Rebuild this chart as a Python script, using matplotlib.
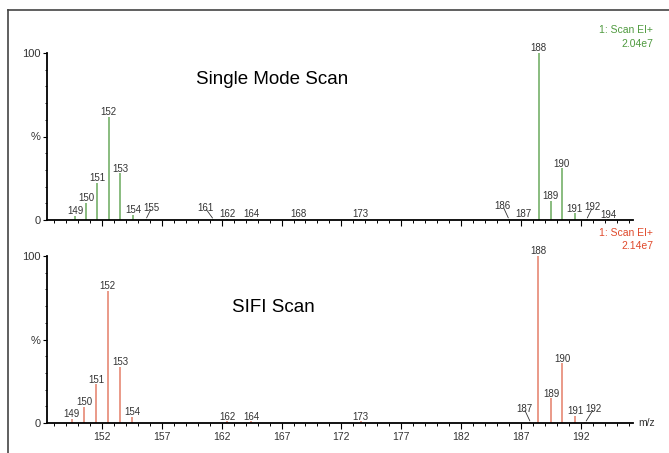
import matplotlib
matplotlib.use('Agg')
import matplotlib.pyplot as plt
from matplotlib.ticker import MultipleLocator, FixedLocator
from matplotlib.lines import Line2D

plt.rcParams['font.family'] = ['Liberation Sans', 'DejaVu Sans']

# measured peak positions (m/z), relative intensity (%) and printed labels
top_mz = [149.75, 150.66, 151.6, 152.55, 153.53, 154.62, 155.67, 161.3, 162.46, 164.45,
          168.4, 173.6, 186.0, 187.25, 188.48, 189.51, 190.43, 191.5, 192.5, 194.3]
top_int = [2.4, 10.4, 22.3, 61.9, 28.0, 3.2, 0.5, 0.5, 0.5, 0.5,
           0.5, 0.5, 0.5, 0.8, 100, 11.4, 31.0, 4.0, 0.5, 0.3]
top_lab = ['149', '150', '151', '152', '153', '154', '155', '161', '162', '164',
           '168', '173', '186', '187', '188', '189', '190', '191', '192', '194']

bot_mz = [149.46, 150.52, 151.5, 152.47, 153.53, 154.53, 162.46, 164.45, 173.6,
          187.8, 188.43, 189.54, 190.46, 191.55, 192.4]
bot_int = [2.4, 9.8, 23.2, 79.0, 33.7, 3.8, 1.0, 1.0, 1.0,
           0.5, 100, 14.8, 35.7, 4.2, 0.5]
bot_lab = ['149', '150', '151', '152', '153', '154', '162', '164', '173',
           '187', '188', '189', '190', '191', '192']

# labels drawn off to the side with a leader line: (dx, dy) in points
top_lead = {'155': (4.1, 6.1), '161': (-6.0, 6.1), '186': (-4.3, 7.1), '192': (4.3, 6.6)}
bot_lead = {'187': (-4.6, 7.6), '192': (6.0, 7.6)}

green_bar, green_txt = '#6aa95c', '#4f9a3f'
red_bar, red_txt = '#e47f68', '#e0492b'

fig = plt.figure(figsize=(6.69, 4.53), dpi=100)

# outer frame (left + top edges visible)
fig.add_artist(Line2D([8/669, 8/669], [0, 1-10/453], color='#444444', lw=1.2,
                      transform=fig.transFigure))
fig.add_artist(Line2D([8/669, 1], [1-10/453, 1-10/453], color='#444444', lw=1.2,
                      transform=fig.transFigure))

ax1 = fig.add_axes([47/669, 1-220/453, 586/669, 167/453])
ax2 = fig.add_axes([47/669, 1-423/453, 586/669, 167/453])


def draw(ax, mz, inten, lab, lead, col, show_x):
    ax.vlines(mz, 0, inten, colors=col, lw=1.1, clip_on=False)
    for x, y, s in zip(mz, inten, lab):
        if s in lead:
            dx, dy = lead[s]
            ax.annotate(s, (x, y), xytext=(dx, dy), textcoords='offset points',
                        ha='center', va='baseline', fontsize=7, color='#333333',
                        arrowprops=dict(arrowstyle='-', color='#333333', lw=0.6,
                                        patchA=None, shrinkA=1.5, shrinkB=1))
        else:
            ax.annotate(s, (x, y), xytext=(0, 1.2), textcoords='offset points',
                        ha='center', va='baseline', fontsize=7, color='#333333')
    ax.set_xlim(147.4, 196.37)
    ax.set_ylim(0, 100)
    for sp in ['top', 'right']:
        ax.spines[sp].set_visible(False)
    for sp in ['left', 'bottom']:
        ax.spines[sp].set_linewidth(1.3)
    ax.xaxis.set_major_locator(FixedLocator(range(152, 197, 5)))
    ax.xaxis.set_minor_locator(MultipleLocator(1))
    ax.yaxis.set_major_locator(FixedLocator([0, 50, 100]))
    ax.yaxis.set_minor_locator(MultipleLocator(10))
    ax.set_yticklabels(['0', '%', '100'])
    ax.tick_params(axis='x', which='major', length=4.5, width=0.8, direction='out',
                   labelsize=7.5, pad=2, labelcolor='#333333')
    ax.tick_params(axis='x', which='minor', length=2.5, width=0.7, direction='out')
    ax.tick_params(axis='y', which='major', length=3, width=0.8, labelsize=8,
                   pad=1.5, labelcolor='#333333')
    ax.tick_params(axis='y', which='minor', length=1.5, width=0.6)
    if not show_x:
        ax.tick_params(axis='x', labelbottom=False)
    ax.patch.set_alpha(0)


draw(ax1, top_mz, top_int, top_lab, top_lead, green_bar, False)
draw(ax2, bot_mz, bot_int, bot_lab, bot_lead, red_bar, True)

fig.text(272/669, 1-80/453, 'Single Mode Scan', ha='center', va='center', fontsize=13.5)
fig.text(273/669, 1-307/453, 'SIFI Scan', ha='center', va='center', fontsize=13.5)

fig.text(653/669, 1-30/453, '1: Scan EI+', ha='right', va='center', fontsize=7.5, color=green_txt)
fig.text(653/669, 1-44/453, '2.04e7', ha='right', va='center', fontsize=7.5, color=green_txt)
fig.text(653/669, 1-233/453, '1: Scan EI+', ha='right', va='center', fontsize=7.5, color=red_txt)
fig.text(653/669, 1-246/453, '2.14e7', ha='right', va='center', fontsize=7.5, color=red_txt)
fig.text(638/669, 1-423/453, 'm/z', ha='left', va='center', fontsize=7.5, color='#333333')

fig.savefig('out.png', dpi=100)
